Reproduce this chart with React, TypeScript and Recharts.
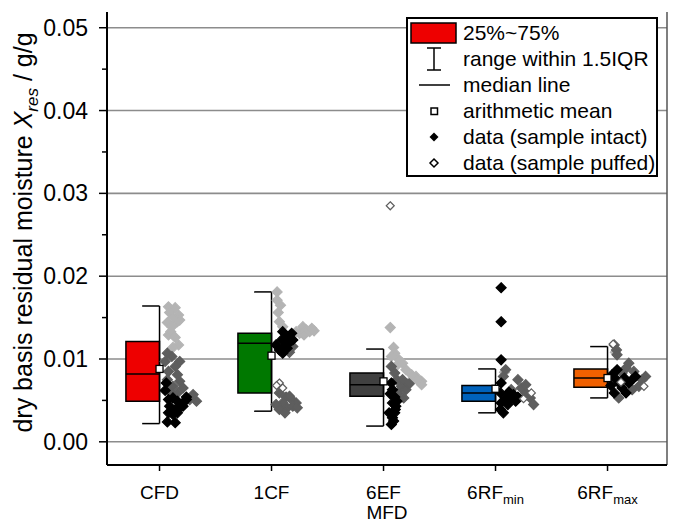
import React from "react";
import {
  ComposedChart,
  Scatter,
  XAxis,
  YAxis,
  CartesianGrid,
  ReferenceArea,
  ReferenceLine,
  Legend,
  Label,
} from "recharts";

const FONT = "'Liberation Sans', Arial, Helvetica, sans-serif";

const categories = ["CFD", "1CF", "6EF", "6RFmin", "6RFmax"];
const boxFills = ["#ee0000", "#007800", "#404040", "#0062bb", "#f06000"];

// box statistics, one entry per category (g/g)
const q1 = [0.0049, 0.0059, 0.0055, 0.0049, 0.0066];
const q3 = [0.0121, 0.0131, 0.0083, 0.0068, 0.0088];
const medians = [0.0082, 0.0119, 0.0069, 0.0059, 0.0077];
const whiskerLow = [0.0022, 0.0037, 0.0019, 0.0035, 0.0053];
const whiskerHigh = [0.0164, 0.0181, 0.0112, 0.0088, 0.0115];
const means = [0.0088, 0.0104, 0.0073, 0.0064, 0.0077];

// raw samples as [offset from category, value]
const intactBlack = [
  [[0.06, 0.0071], [0.05, 0.0062], [0.08, 0.0051], [0.12, 0.0053], [0.16, 0.0049], [0.21, 0.0047], [0.24, 0.0051], [0.09, 0.0043], [0.14, 0.0039], [0.18, 0.0041], [0.08, 0.0035], [0.12, 0.0033], [0.07, 0.0024], [0.14, 0.0023], [0.16, 0.0035], [0.21, 0.0043], [0.24, 0.0054]],
  [[0.1, 0.0133], [0.13, 0.0127], [0.09, 0.0123], [0.16, 0.012], [0.12, 0.0115], [0.07, 0.0111], [0.14, 0.0113], [0.1, 0.0107], [0.19, 0.0123], [0.18, 0.0131], [0.04, 0.0117], [0.125, 0.0121]],
  [[0.07, 0.0071], [0.08, 0.0063], [0.1, 0.0054], [0.08, 0.0047], [0.11, 0.0043], [0.1, 0.0035], [0.08, 0.0029], [0.07, 0.0021], [0.12, 0.0049], [0.05, 0.0035], [0.105, 0.0039], [0.06, 0.0058], [0.09, 0.0025]],
  [[0.05, 0.0186], [0.05, 0.0145], [0.05, 0.0099], [0.05, 0.0071], [0.045, 0.0059], [0.09, 0.0053], [0.13, 0.0051], [0.18, 0.0049], [0.05, 0.0047], [0.045, 0.0039], [0.07, 0.0035], [0.16, 0.0057], [0.11, 0.0045], [0.2, 0.0054], [0.12, 0.006]],
  [[0.08, 0.0075], [0.1, 0.0071], [0.13, 0.0065], [0.19, 0.0071], [0.06, 0.0059], [0.165, 0.0059], [0.22, 0.0075], [0.25, 0.0079], [0.085, 0.0087], [0.04, 0.0081], [0.15, 0.0077], [0.03, 0.0068]],
];

const intactDark = [
  [[0.07, 0.0107], [0.11, 0.0103], [0.05, 0.0097], [0.18, 0.0097], [0.14, 0.0091], [0.08, 0.0085], [0.16, 0.0081], [0.07, 0.0075], [0.18, 0.0073], [0.12, 0.0067], [0.09, 0.0061], [0.16, 0.0059], [0.3, 0.0057], [0.33, 0.0049], [0.27, 0.0051], [0.21, 0.0065]],
  [[0.19, 0.0115], [0.16, 0.0108], [0.07, 0.0059], [0.13, 0.0054], [0.18, 0.0051], [0.22, 0.0047], [0.1, 0.0047], [0.07, 0.0039], [0.14, 0.0041], [0.19, 0.0043], [0.23, 0.0041], [0.12, 0.0035], [0.04, 0.0045], [0.16, 0.0055]],
  [[0.07, 0.0091], [0.1, 0.0083], [0.12, 0.0075], [0.16, 0.0067], [0.2, 0.0063], [0.17, 0.0075], [0.18, 0.0053], [0.23, 0.007], [0.13, 0.0059]],
  [[0.09, 0.0087], [0.07, 0.0079], [0.2, 0.0075], [0.14, 0.0063], [0.27, 0.0059], [0.31, 0.0053], [0.34, 0.0045], [0.23, 0.0065], [0.27, 0.0069]],
  [[0.06, 0.0117], [0.08, 0.0111], [0.085, 0.0105], [0.19, 0.0095], [0.165, 0.0089], [0.13, 0.0083], [0.34, 0.0079], [0.31, 0.0075], [0.28, 0.0067], [0.22, 0.0063], [0.1, 0.0053], [0.235, 0.0085]],
];

const intactLight = [
  [[0.08, 0.0163], [0.14, 0.0162], [0.17, 0.0153], [0.09, 0.0156], [0.16, 0.0145], [0.07, 0.0144], [0.11, 0.0139], [0.08, 0.0129], [0.14, 0.0126], [0.17, 0.0117], [0.12, 0.0114], [0.18, 0.0147], [0.12, 0.015], [0.1, 0.0133]],
  [[0.05, 0.0181], [0.05, 0.0171], [0.06, 0.0156], [0.07, 0.0145], [0.1, 0.0139], [0.28, 0.0139], [0.31, 0.0135], [0.34, 0.0133], [0.25, 0.0131], [0.22, 0.0133], [0.36, 0.0137], [0.29, 0.0129], [0.38, 0.0134], [0.08, 0.0165]],
  [[0.06, 0.0138], [0.09, 0.0114], [0.1, 0.0107], [0.14, 0.0099], [0.17, 0.0095], [0.11, 0.0091], [0.2, 0.0087], [0.29, 0.0079], [0.34, 0.0073], [0.34, 0.0069], [0.3, 0.0075], [0.25, 0.0081], [0.23, 0.0072], [0.07, 0.0103]],
  [[0.08, 0.0084]],
  [[0.07, 0.0108]],
];

const puffed = [
  [],
  [[0.07, 0.0071], [0.1, 0.0065], [0.045, 0.0068]],
  [[0.06, 0.0285]],
  [[0.32, 0.0059], [0.25, 0.0052]],
  [[0.05, 0.0118], [0.325, 0.0067], [0.12, 0.0072]],
];

const toPoints = (groups: number[][][]) =>
  groups.flatMap((g, i) => g.map(([dx, v]) => ({ x: i + dx, y: v })));

const meanPoints = means.map((v, i) => ({ x: i, y: v }));

const majorTicks = [0, 0.01, 0.02, 0.03, 0.04, 0.05];
const allTicks = [0, 0.005, 0.01, 0.015, 0.02, 0.025, 0.03, 0.035, 0.04, 0.045, 0.05];

const BOX_W = 0.3;
const CAP_W = 0.155;

const diamond = (fill: string, stroke: string, r: number) => (p: any) => {
  const { cx, cy } = p;
  return (
    <path
      d={`M${cx},${cy - r}L${cx + r},${cy}L${cx},${cy + r}L${cx - r},${cy}Z`}
      fill={fill}
      stroke={stroke}
      strokeWidth={1.2}
    />
  );
};

const meanSquare = (p: any) => (
  <rect x={p.cx - 3.5} y={p.cy - 3.5} width={7} height={7} fill="#fff" stroke="#000" strokeWidth={1.3} />
);

const CategoryTick = ({ x, y, payload }: any) => {
  const label = categories[payload.value] ?? "";
  const m = label.match(/^(6RF)(min|max)$/);
  return (
    <g>
      <line x1={x} x2={x} y1={y - 8} y2={y - 2} stroke="#000" strokeWidth={1.5} />
      <text x={x} y={y} dy={26} textAnchor="middle" fontSize={19} fontFamily={FONT} fill="#000">
        {m ? (
          <>
            {m[1]}
            <tspan dy={5} fontSize={13}>
              {m[2]}
            </tspan>
          </>
        ) : (
          label
        )}
      </text>
    </g>
  );
};

const ValueTick = ({ x, y, payload }: any) => {
  const v = payload.value as number;
  const major = majorTicks.some((t) => Math.abs(t - v) < 1e-9);
  return (
    <g>
      <line x1={x} x2={x - (major ? 8 : 5)} y1={y} y2={y} stroke="#000" strokeWidth={1.5} />
      {major && (
        <text x={x - 19} y={y} dy={8} textAnchor="end" fontSize={23} fontFamily={FONT} fill="#000">
          {v.toFixed(2)}
        </text>
      )}
    </g>
  );
};

const YTitle = ({ viewBox }: any) => {
  const cx = 23.5;
  const cy = viewBox.y + viewBox.height / 2 - 6;
  return (
    <text
      x={cx}
      y={cy}
      transform={`rotate(-90, ${cx}, ${cy})`}
      textAnchor="middle"
      fontSize={25}
      fontFamily={FONT}
      fill="#000"
    >
      dry basis residual moisture <tspan fontStyle="italic">X</tspan>
      <tspan fontStyle="italic" fontSize={17} dy={6}>
        res
      </tspan>
      <tspan dy={-6}> / g/g</tspan>
    </text>
  );
};

const LegendIcon = ({ kind }: { kind: string }) => {
  switch (kind) {
    case "box":
      return <rect x={3} y={3} width={45} height={20} fill="#ee0000" stroke="#000" strokeWidth={1.5} />;
    case "range":
      return (
        <g stroke="#000" strokeWidth={1.5}>
          <line x1={26} x2={26} y1={2} y2={24} />
          <line x1={19} x2={33} y1={2} y2={2} />
          <line x1={19} x2={33} y1={24} y2={24} />
        </g>
      );
    case "median":
      return <line x1={11} x2={42} y1={13} y2={13} stroke="#000" strokeWidth={1.5} />;
    case "mean":
      return <rect x={23} y={10} width={6.5} height={6.5} fill="#fff" stroke="#000" strokeWidth={1.5} />;
    case "intact":
      return <path d="M26,8.5L30.5,13L26,17.5L21.5,13Z" fill="#000" />;
    default:
      return <path d="M26,9L30,13L26,17L22,13Z" fill="#fff" stroke="#000" strokeWidth={1.5} />;
  }
};

const legendRows = [
  { kind: "box", text: "25%~75%" },
  { kind: "range", text: "range within 1.5IQR" },
  { kind: "median", text: "median line" },
  { kind: "mean", text: "arithmetic mean" },
  { kind: "intact", text: "data (sample intact)" },
  { kind: "puffed", text: "data (sample puffed)" },
];

const LegendBox = () => (
  <div
    style={{
      width: 252,
      height: 160,
      boxSizing: "border-box",
      border: "2px solid #000",
      background: "#fff",
      paddingTop: 1,
      fontFamily: FONT,
      fontSize: 21,
      color: "#000",
    }}
  >
    {legendRows.map((r) => (
      <div key={r.kind} style={{ display: "flex", alignItems: "center", height: 26 }}>
        <svg width={55} height={26} style={{ flex: "none" }}>
          <LegendIcon kind={r.kind} />
        </svg>
        <span style={{ whiteSpace: "nowrap" }}>{r.text}</span>
      </div>
    ))}
  </div>
);

export default function App() {
  return (
    <ComposedChart width={670} height={519} margin={{ top: 4, right: 11, bottom: 0, left: 0 }}>
      <CartesianGrid vertical={false} horizontalValues={majorTicks} stroke="#8c8c8c" strokeWidth={1.6} />
      <XAxis
        type="number"
        dataKey="x"
        domain={[-0.469, 4.531]}
        ticks={[0, 1, 2, 3, 4]}
        allowDataOverflow
        height={62}
        tickSize={0}
        tickMargin={8}
        tickLine={false}
        tick={<CategoryTick />}
        axisLine={{ stroke: "#000", strokeWidth: 2 }}
      >
        <Label value="MFD" position="insideBottom" offset={8} fontSize={19} fontFamily={FONT} fill="#000" />
      </XAxis>
      <YAxis
        type="number"
        dataKey="y"
        domain={[-0.0028, 0.0519]}
        ticks={allTicks}
        allowDataOverflow
        width={99}
        tickSize={0}
        tickMargin={0}
        tickLine={false}
        tick={<ValueTick />}
        interval={0}
        axisLine={{ stroke: "#000", strokeWidth: 2 }}
      >
        <Label content={<YTitle />} />
      </YAxis>
      <ReferenceLine x={4.531} stroke="#555" strokeWidth={1.5} />

      {categories.map((c, i) => (
        <ReferenceArea
          key={`box-${c}`}
          x1={i - BOX_W}
          x2={i}
          y1={q1[i]}
          y2={q3[i]}
          fill={boxFills[i]}
          fillOpacity={1}
          stroke="#000"
          strokeWidth={1.5}
        />
      ))}
      {categories.map((c, i) => (
        <ReferenceLine
          key={`med-${c}`}
          segment={[
            { x: i - BOX_W, y: medians[i] },
            { x: i, y: medians[i] },
          ]}
          stroke="#000"
          strokeWidth={1.5}
        />
      ))}
      {categories.map((c, i) => (
        <ReferenceLine
          key={`wv-${c}`}
          segment={[
            { x: i, y: whiskerLow[i] },
            { x: i, y: whiskerHigh[i] },
          ]}
          stroke="#000"
          strokeWidth={1.5}
        />
      ))}
      {categories.map((c, i) => (
        <ReferenceLine
          key={`wh-${c}`}
          segment={[
            { x: i - CAP_W, y: whiskerHigh[i] },
            { x: i, y: whiskerHigh[i] },
          ]}
          stroke="#000"
          strokeWidth={1.5}
        />
      ))}
      {categories.map((c, i) => (
        <ReferenceLine
          key={`wl-${c}`}
          segment={[
            { x: i - CAP_W, y: whiskerLow[i] },
            { x: i, y: whiskerLow[i] },
          ]}
          stroke="#000"
          strokeWidth={1.5}
        />
      ))}

      <Scatter data={toPoints(intactLight)} dataKey="y" shape={diamond("#b4b4b4", "#b4b4b4", 5)} isAnimationActive={false} />
      <Scatter data={toPoints(intactDark)} dataKey="y" shape={diamond("#5e5e5e", "#5e5e5e", 5)} isAnimationActive={false} />
      <Scatter data={toPoints(intactBlack)} dataKey="y" shape={diamond("#000", "#000", 5)} isAnimationActive={false} />
      <Scatter data={toPoints(puffed)} dataKey="y" shape={diamond("#fff", "#5e5e5e", 4)} isAnimationActive={false} />
      <Scatter data={meanPoints} dataKey="y" shape={meanSquare} isAnimationActive={false} />

      <Legend
        content={() => <LegendBox />}
        layout="vertical"
        align="center"
        verticalAlign="middle"
        wrapperStyle={{ left: 398, top: 9, width: 252, height: 160 }}
      />
    </ComposedChart>
  );
}
